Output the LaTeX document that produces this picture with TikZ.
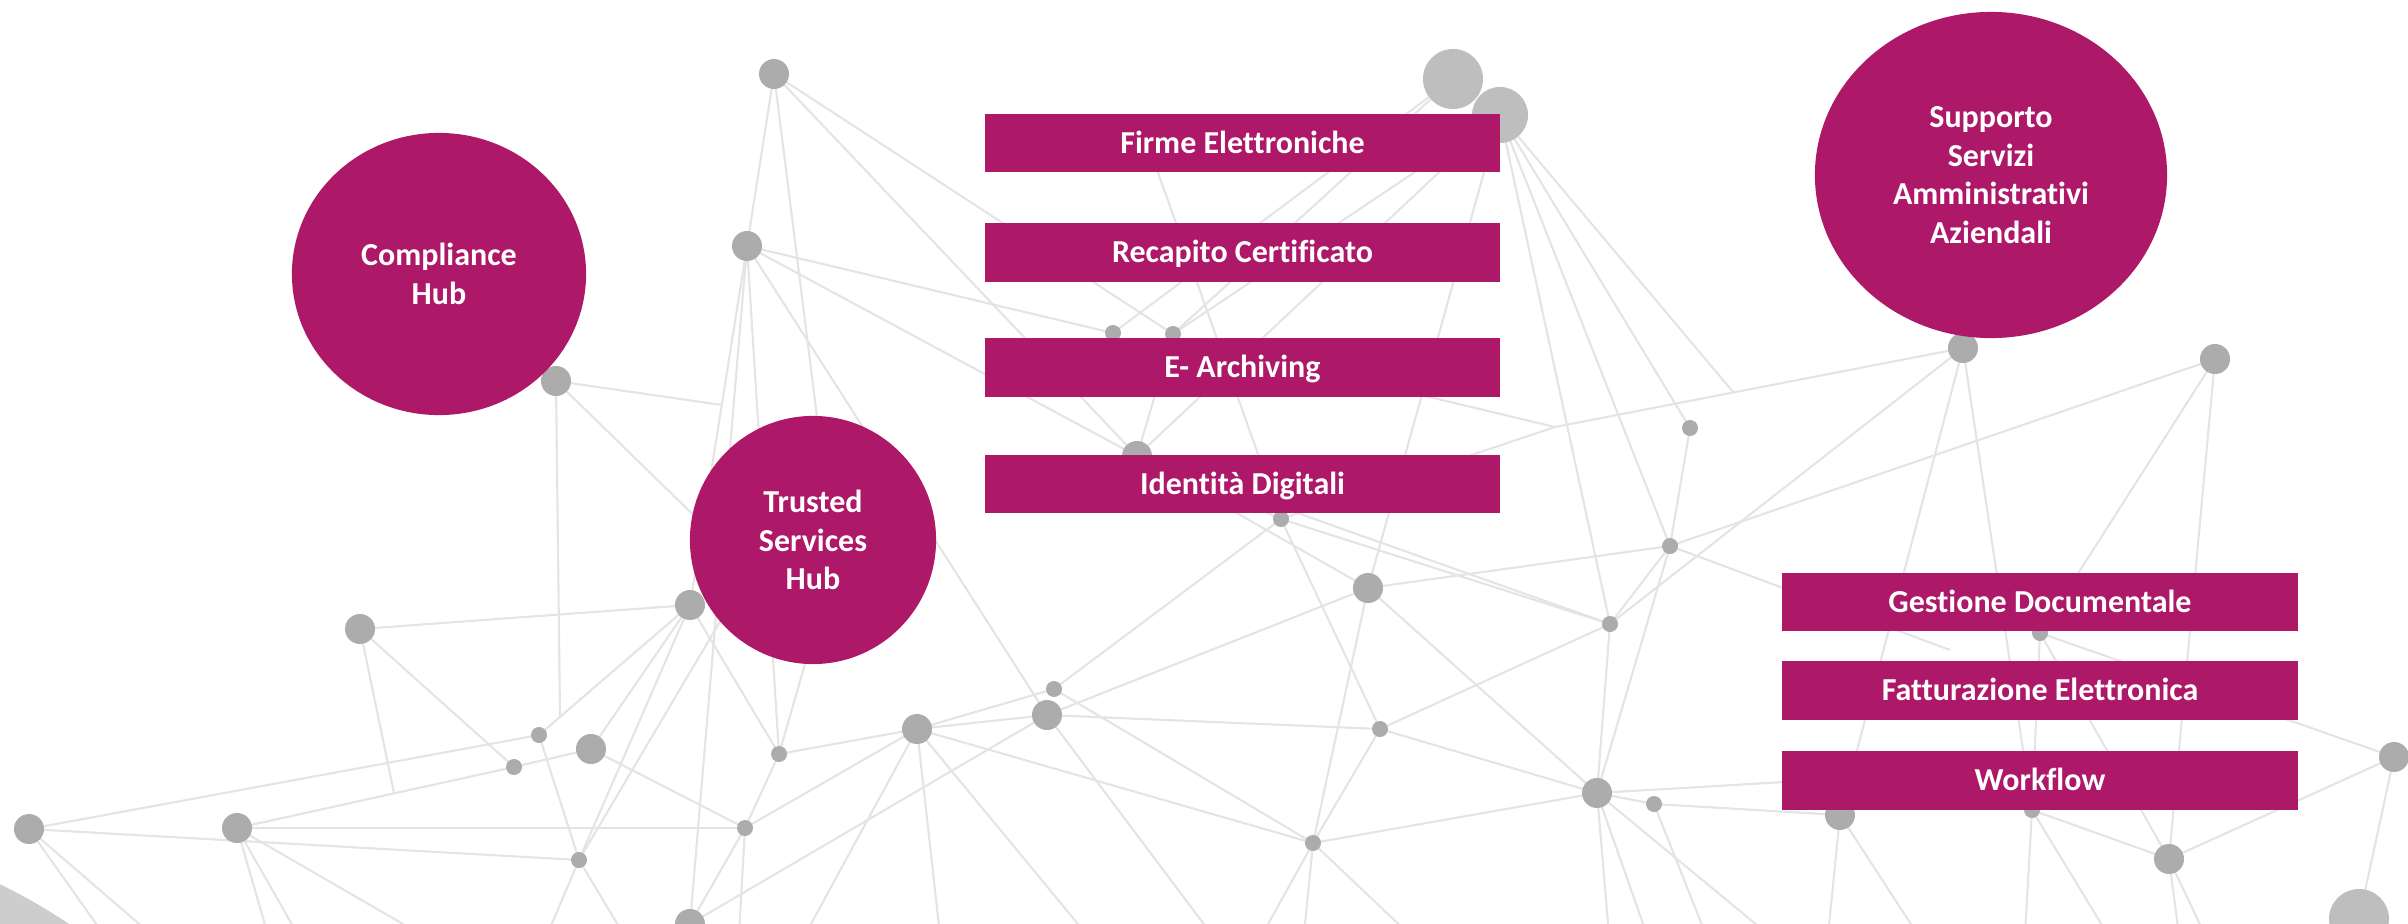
\documentclass[tikz,border=0pt]{standalone}
\usepackage{fontspec}
\setmainfont{Carlito}[Ligatures=NoCommon]
\usetikzlibrary{shapes.geometric}
\definecolor{mag}{RGB}{173,24,104}
\definecolor{edgegray}{RGB}{228,228,228}
\definecolor{dotgray}{RGB}{172,172,172}
\definecolor{biggray}{RGB}{190,190,190}
\definecolor{cornergray}{RGB}{205,205,205}
\begin{document}
\begin{tikzpicture}[x=0.01cm,y=-0.01cm,
  edge/.style={draw=edgegray,line width=0.6pt},
  dotS/.style={circle,fill=dotgray,inner sep=0pt,minimum size=0.16cm},
  dotM/.style={circle,fill=dotgray,inner sep=0pt,minimum size=0.30cm},
  dotL/.style={circle,fill=biggray,inner sep=0pt,minimum size=0.60cm},
  txt/.style={text=white,font=\bfseries\fontsize{9.1}{10.95}\selectfont},
  box/.style={txt,rectangle,fill=mag,minimum width=5.15cm,minimum height=0.58cm,inner sep=0pt,text height=0.205cm,text depth=0pt},
  hub/.style={txt,ellipse,fill=mag,align=center,inner sep=0pt}
]
\useasboundingbox (0,0) rectangle (2408,924);
\begin{scope}
\clip (0,0) rectangle (2408,924);
\fill[cornergray] (-250,1400) circle (573);
% dot positions
\coordinate (n1) at (774,74);
\coordinate (n2) at (747,246);
\coordinate (n3) at (556,381);
\coordinate (n4) at (1113,333);
\coordinate (n5) at (1173,334);
\coordinate (n6) at (1137,456);
\coordinate (nB1) at (1453,79);
\coordinate (nB2) at (1500,115);
\coordinate (n7) at (1690,428);
\coordinate (n8) at (1963,348);
\coordinate (n9) at (2215,359);
\coordinate (n10) at (360,629);
\coordinate (n11) at (690,605);
\coordinate (n12) at (539,735);
\coordinate (n13) at (514,767);
\coordinate (n14) at (591,749);
\coordinate (n15) at (29,829);
\coordinate (n16) at (237,828);
\coordinate (n17) at (579,860);
\coordinate (n18) at (779,754);
\coordinate (n19) at (745,828);
\coordinate (n20) at (917,729);
\coordinate (n21) at (1054,689);
\coordinate (n22) at (1047,715);
\coordinate (n23) at (690,924);
\coordinate (n24) at (1281,519);
\coordinate (n25) at (1368,588);
\coordinate (n26) at (1670,546);
\coordinate (n27) at (1610,624);
\coordinate (n28) at (1380,729);
\coordinate (n29) at (1597,793);
\coordinate (n30) at (1654,804);
\coordinate (n31) at (1313,843);
\coordinate (n32) at (2040,633);
\coordinate (n33) at (2394,757);
\coordinate (n34) at (1840,815);
\coordinate (n35) at (2032,810);
\coordinate (n36) at (2169,859);
\coordinate (n37) at (2359,919);
% hidden / junction points
\coordinate (h1) at (835,560);
\coordinate (h2) at (760,580);
\coordinate (h3) at (780,520);
\coordinate (h4) at (722,405);
\coordinate (h5) at (560,717);
\coordinate (h6) at (394,793);
\coordinate (h7) at (1400,390);
\coordinate (h8) at (1150,150);
\coordinate (h9) at (1990,770);
\coordinate (h10) at (1950,650);
\coordinate (j1) at (1555,427);
\coordinate (j2) at (1734,393);
% exits at the bottom edge
\coordinate (e1) at (104,935);
\coordinate (e2) at (152,935);
\coordinate (e3) at (268,935);
\coordinate (e4) at (298,935);
\coordinate (e5) at (422,935);
\coordinate (e6) at (547,935);
\coordinate (e7) at (624,935);
\coordinate (e8) at (739,935);
\coordinate (e9) at (805,935);
\coordinate (e10) at (940,935);
\coordinate (e11) at (1087,935);
\coordinate (e12) at (1212,935);
\coordinate (e13) at (1262,935);
\coordinate (e14) at (1304,935);
\coordinate (e15) at (1410,935);
\coordinate (e16) at (1609,935);
\coordinate (e17) at (1647,935);
\coordinate (e18) at (1769,935);
\coordinate (e19) at (1706,935);
\coordinate (e20) at (1828,935);
\coordinate (e21) at (1918,935);
\coordinate (e22) at (2025,935);
\coordinate (e23) at (2108,935);
\coordinate (e24) at (2179,935);
\coordinate (e25) at (2205,935);
% connectors
\foreach \a/\b in {n1/n2,n1/h1,n1/n6,n1/n5,
  n2/n4,n2/n6,n2/n11,n2/n23,n2/n18,n2/n22,
  n3/h4,n3/h2,n3/h5,
  n4/nB1,n5/nB1,n5/nB2,n5/n6,nB2/n6,nB2/n25,nB2/n27,nB2/n26,nB2/n7,nB2/j2,
  n6/n24,n6/n25,n6/n27,h8/n24,
  j1/n8,j1/h7,j1/n24,
  n8/n27,n8/n34,n8/n35,
  n9/n26,n9/n32,n9/n36,n7/n26,
  n10/n11,n10/n13,n10/h6,
  n11/n12,n11/n14,n11/n17,n11/n18,
  n12/n15,n12/n17,n13/n14,n13/n16,n15/n17,n16/n19,n17/h3,
  n18/h1,n18/n20,n18/n19,
  n19/n14,n19/n20,n19/n23,
  n20/n21,n20/n22,n20/n31,n21/n24,n21/n31,
  n22/n23,n22/n28,n22/n25,
  n24/n27,n24/n28,
  n25/n26,n25/n29,n25/n31,
  n26/n29,n26/n27,n26/h10,
  n27/n28,n27/n29,n28/n29,n28/n31,
  n29/n30,n29/n31,n29/h9,n30/n34,
  n32/n33,n32/n35,n32/n36,n33/n36,n33/n37,n35/n36,
  n15/e1,n15/e2,n16/e3,n16/e4,n16/e5,n17/e6,n17/e7,n19/e8,
  n20/e9,n20/e10,n20/e11,n22/e12,n31/e13,n31/e14,n31/e15,
  n29/e16,n29/e17,n29/e18,n30/e19,n34/e20,n34/e21,n35/e22,n35/e23,n36/e24,n36/e25}
  \draw[edge] (\a) -- (\b);
% dots
\foreach \c in {n4,n5,n7,n12,n13,n17,n18,n19,n21,n24,n26,n27,n28,n30,n31,n32,n35}
  \node[dotS] (d\c) at (\c) {};
\foreach \c in {n1,n2,n3,n6,n8,n9,n10,n11,n14,n15,n16,n20,n22,n23,n25,n29,n33,n34,n36}
  \node[dotM] (d\c) at (\c) {};
\node[dotL] (dnB1) at (nB1) {};
\node[dotL,minimum size=0.56cm] (dnB2) at (nB2) {};
\node[dotL] (dn37) at (n37) {};
\end{scope}
% hubs
\node[hub,minimum width=2.94cm,minimum height=2.82cm] (compliance) at (439,274) {Compliance\\Hub};
\node[hub,minimum width=2.46cm,minimum height=2.48cm] (trusted) at (813,540) {Trusted\\Services\\Hub};
\node[hub,minimum width=3.52cm,minimum height=3.26cm] (supporto) at (1991,175) {Supporto\\Servizi\\Amministrativi\\Aziendali};
% boxes
\node[box] (firme) at (1242.5,143) {Firme Elettroniche};
\node[box] (recapito) at (1242.5,252.5) {Recapito Certificato};
\node[box] (earch) at (1242.5,367.5) {E- Archiving};
\node[box] (ident) at (1242.5,484) {Identità Digitali};
\node[box] (gestione) at (2040,602) {Gestione Documentale};
\node[box] (fattura) at (2040,690.5) {Fatturazione Elettronica};
\node[box] (workflow) at (2040,780.5) {Workflow};
\end{tikzpicture}
\end{document}
